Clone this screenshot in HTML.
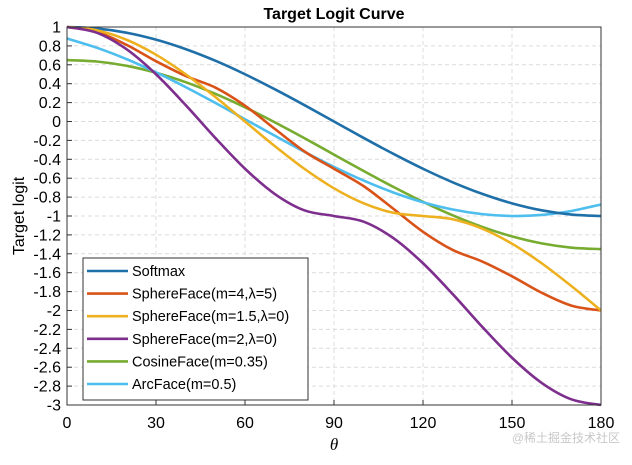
<!DOCTYPE html>
<html><head><meta charset="utf-8"><style>
body{margin:0;background:#fff;}
svg text{font-family:"Liberation Sans","Noto Sans CJK SC",sans-serif;}
</style></head><body>
<svg id="chart" width="632" height="460" viewBox="0 0 632 460" xmlns="http://www.w3.org/2000/svg">
<rect width="632" height="460" fill="#fff"/>
<g id="grid"></g>
<g id="series"></g>
<g id="axes"></g>
<text x="334" y="19" text-anchor="middle" font-size="16" font-weight="bold">Target Logit Curve</text>
<text transform="translate(24,216) rotate(-90)" text-anchor="middle" font-size="16">Target logit</text>
<text x="334" y="450" text-anchor="middle" font-size="17" font-style="italic" style="font-family:'Liberation Serif',serif">θ</text>
<g id="legend"></g>
<text x="620" y="442" text-anchor="end" font-size="12" fill="#c8c8c8">@稀土掘金技术社区</text>
</svg>
<script>
const thetas=[0,10,20,30,40,50,60,70,80,90,100,110,120,130,140,150,160,170,180];
const softmax=[1,.985,.940,.866,.766,.643,.5,.342,.174,0,-.174,-.342,-.5,-.643,-.766,-.866,-.940,-.985,-1];
const sphere4=[1,.948,.812,.638,.482,.359,.167,-.077,-.316,-.5,-.684,-.923,-1.167,-1.359,-1.482,-1.638,-1.812,-1.948,-2];
const sphere15=[1,.966,.866,.707,.5,.259,0,-.259,-.5,-.707,-.866,-.966,-1,-1.034,-1.134,-1.293,-1.5,-1.741,-2];
const sphere2=[1,.940,.766,.5,.174,-.174,-.5,-.766,-.940,-1,-1.060,-1.234,-1.5,-1.826,-2.174,-2.5,-2.766,-2.940,-3];
const cosine=[.65,.635,.59,.516,.416,.293,.15,-.008,-.176,-.35,-.524,-.692,-.85,-.993,-1.116,-1.216,-1.29,-1.335,-1.35];
const arc=[.878,.781,.661,.520,.364,.197,.024,-.150,-.320,-.480,-.625,-.751,-.854,-.931,-.980,-1.0,-.989,-.947,-.878];
const seriesNames=["Softmax","SphereFace(m=4,λ=5)","SphereFace(m=1.5,λ=0)","SphereFace(m=2,λ=0)","CosineFace(m=0.35)","ArcFace(m=0.5)"];
const xTicks=[0,30,60,90,120,150,180];
const yTicks=[1,0.8,0.6,0.4,0.2,0,-0.2,-0.4,-0.6,-0.8,-1,-1.2,-1.4,-1.6,-1.8,-2,-2.2,-2.4,-2.6,-2.8,-3];

const X0=67,X1=601,Y0=27,Y1=405;
const sx=v=>X0+(v/180)*(X1-X0);
const sy=v=>Y0+(1-v)/4*(Y1-Y0);
const NS="http://www.w3.org/2000/svg";
function mk(t,a,p){const e=document.createElementNS(NS,t);for(const k in a)e.setAttribute(k,a[k]);p.appendChild(e);return e;}
const grid=document.getElementById('grid'),axes=document.getElementById('axes'),ser=document.getElementById('series'),leg=document.getElementById('legend');
xTicks.forEach(t=>{
 const g=mk('line',{x1:sx(t),x2:sx(t),y1:Y0,y2:Y1,stroke:'#dcdcdc','stroke-dasharray':'4,3','stroke-width':1},grid);
 
 
 const tk=mk('line',{x1:sx(t),x2:sx(t),y1:Y1,y2:Y1-5,stroke:'#333'},axes);
 
 
 const l=mk('text',{x:sx(t),y:Y1+23,'text-anchor':'middle','font-size':16},axes);l.textContent=t;
 
 
});
yTicks.forEach(t=>{
 const g=mk('line',{x1:X0,x2:X1,y1:sy(t),y2:sy(t),stroke:'#dcdcdc','stroke-dasharray':'4,3','stroke-width':1},grid);
 
 
 const tk=mk('line',{x1:X0,x2:X0+5,y1:sy(t),y2:sy(t),stroke:'#333'},axes);
 
 
 const l=mk('text',{x:X0-6,y:sy(t)+5.5,'text-anchor':'end','font-size':16},axes);l.textContent=String(t);
 
 
});
const box=mk('rect',{x:X0,y:Y0,width:X1-X0,height:Y1-Y0,fill:'none',stroke:'#333','stroke-width':1},axes);



function pathFor(vals){
 const p=thetas.map((t,i)=>[sx(t),sy(vals[i])]);
 let d='M'+p[0][0]+','+p[0][1];
 for(let i=0;i<p.length-1;i++){
  const a=p[i-1]||p[i],b=p[i],c=p[i+1],e=p[i+2]||c;
  const c1=[b[0]+(c[0]-a[0])/6,b[1]+(c[1]-a[1])/6],c2=[c[0]-(e[0]-b[0])/6,c[1]-(e[1]-b[1])/6];
  d+=` C${c1[0]},${c1[1]} ${c2[0]},${c2[1]} ${c[0]},${c[1]}`;
 }
 return d;
}
const all=[softmax,sphere4,sphere15,sphere2,cosine,arc];
const colors=['#1f6fa8','#d95319','#edb120','#7e2f8e','#77ac30','#4dbeee'];
const keys=['softmax','sphereface-m4','sphereface-m1-5','sphereface-m2','cosineface','arcface'];
const order=[4,5,0,1,2,3];
order.forEach(i=>{
 const p=mk('path',{d:pathFor(all[i]),fill:'none',stroke:colors[i],'stroke-width':2.6,'stroke-linejoin':'round'},ser);
 
 
});
const lb=mk('rect',{x:83,y:258,width:225,height:142,fill:'#fff',stroke:'#333','stroke-width':1},leg);


seriesNames.forEach((n,i)=>{
 const y=271+i*22.6;
 const g=mk('g',{},leg);
 
 
 mk('line',{x1:87,x2:128,y1:y,y2:y,stroke:colors[i],'stroke-width':2.6},g);
 const t=mk('text',{x:132,y:y+5,'font-size':14.5},g);t.textContent=n;
});
</script>
</body></html>
